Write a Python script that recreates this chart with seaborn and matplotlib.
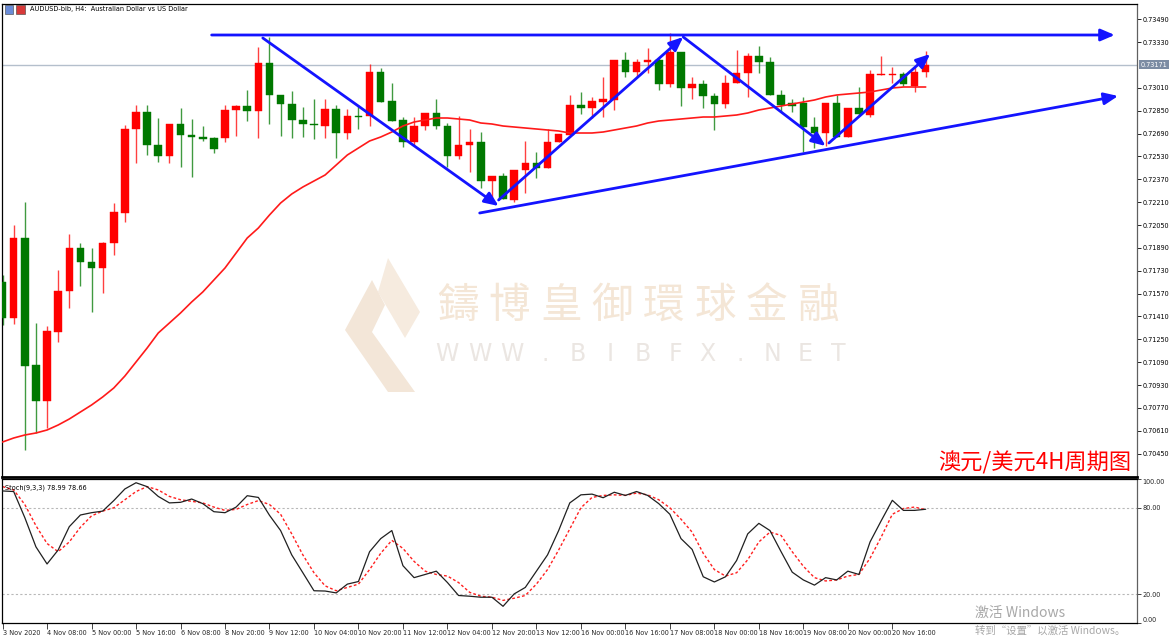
import numpy as np
import pandas as pd
import matplotlib
matplotlib.use("Agg")
import matplotlib.pyplot as plt
import matplotlib.transforms as mtransforms
from matplotlib.patches import Polygon
import seaborn as sns

# ---------------- data ----------------
opens = [0.71651, 0.71399, 0.71959, 0.71070, 0.70818, 0.71301, 0.71588, 0.71889, 0.71791, 0.71749,
         0.71924, 0.72134, 0.72722, 0.72841, 0.72610, 0.72533, 0.72757, 0.72680, 0.72666, 0.72659,
         0.72659, 0.72855, 0.72883, 0.72848, 0.73184, 0.72960, 0.72897, 0.72785, 0.72757, 0.72743,
         0.72862, 0.72694, 0.72813, 0.72813, 0.73121, 0.72918, 0.72785, 0.72631, 0.72743, 0.72834,
         0.72743, 0.72533, 0.72610, 0.72631, 0.72358, 0.72393, 0.72225, 0.72435, 0.72484, 0.72449,
         0.72631, 0.72680, 0.72890, 0.72869, 0.72911, 0.72925, 0.73205, 0.73121, 0.73191, 0.73205,
         0.73037, 0.73261, 0.73009, 0.73037, 0.72953, 0.72897, 0.73044, 0.73114, 0.73233, 0.73191,
         0.72960, 0.72904, 0.72904, 0.72736, 0.72694, 0.72904, 0.72666, 0.72869, 0.72820, 0.73100,
         0.73100, 0.73107, 0.73023, 0.73121]
highs = [0.71700, 0.72050, 0.72211, 0.71364, 0.71343, 0.71735, 0.71987, 0.71924, 0.71889, 0.71931,
         0.72204, 0.72750, 0.72890, 0.72890, 0.72799, 0.72757, 0.72869, 0.72792, 0.72743, 0.72666,
         0.72890, 0.72890, 0.72995, 0.73296, 0.73366, 0.72960, 0.72988, 0.72876, 0.72932, 0.72932,
         0.72890, 0.72862, 0.72890, 0.73177, 0.73149, 0.73044, 0.72806, 0.72806, 0.72834, 0.72932,
         0.72764, 0.72813, 0.72722, 0.72701, 0.72393, 0.72414, 0.72435, 0.72638, 0.72561, 0.72722,
         0.72687, 0.72960, 0.72981, 0.72946, 0.73086, 0.73205, 0.73261, 0.73212, 0.73289, 0.73219,
         0.73394, 0.73261, 0.73086, 0.73065, 0.72974, 0.73100, 0.73275, 0.73254, 0.73303, 0.73226,
         0.72995, 0.72932, 0.72946, 0.72806, 0.72904, 0.72960, 0.72869, 0.73016, 0.73135, 0.73233,
         0.73156, 0.73121, 0.73156, 0.73268]
lows = [0.71350, 0.71357, 0.70475, 0.70594, 0.70629, 0.71231, 0.71469, 0.71623, 0.71441, 0.71574,
        0.71840, 0.72071, 0.72484, 0.72540, 0.72491, 0.72484, 0.72456, 0.72386, 0.72638, 0.72554,
        0.72631, 0.72673, 0.72778, 0.72659, 0.72757, 0.72673, 0.72659, 0.72666, 0.72652, 0.72659,
        0.72519, 0.72652, 0.72722, 0.72743, 0.72911, 0.72778, 0.72596, 0.72603, 0.72715, 0.72722,
        0.72456, 0.72512, 0.72421, 0.72309, 0.72211, 0.72232, 0.72211, 0.72274, 0.72379, 0.72449,
        0.72631, 0.72680, 0.72827, 0.72799, 0.72806, 0.72855, 0.73086, 0.73086, 0.73114, 0.72995,
        0.73016, 0.72883, 0.72932, 0.72869, 0.72715, 0.72869, 0.73044, 0.72946, 0.73114, 0.72960,
        0.72841, 0.72841, 0.72561, 0.72589, 0.72603, 0.72666, 0.72666, 0.72820, 0.72806, 0.73100,
        0.73044, 0.73023, 0.72981, 0.73086]
closes = [0.71399, 0.71959, 0.71063, 0.70818, 0.71308, 0.71588, 0.71889, 0.71791, 0.71749, 0.71924,
          0.72141, 0.72722, 0.72841, 0.72610, 0.72533, 0.72757, 0.72680, 0.72666, 0.72652, 0.72582,
          0.72855, 0.72883, 0.72848, 0.73184, 0.72960, 0.72897, 0.72785, 0.72757, 0.72750, 0.72862,
          0.72694, 0.72813, 0.72806, 0.73121, 0.72911, 0.72778, 0.72631, 0.72743, 0.72834, 0.72743,
          0.72533, 0.72610, 0.72631, 0.72358, 0.72393, 0.72232, 0.72435, 0.72484, 0.72449, 0.72631,
          0.72687, 0.72890, 0.72869, 0.72918, 0.72932, 0.73205, 0.73121, 0.73191, 0.73205, 0.73037,
          0.73261, 0.73009, 0.73037, 0.72953, 0.72897, 0.73044, 0.73114, 0.73233, 0.73191, 0.72960,
          0.72890, 0.72883, 0.72736, 0.72694, 0.72904, 0.72666, 0.72869, 0.72827, 0.73107, 0.73107,
          0.73107, 0.73037, 0.73121, 0.73170]
ma_values = [0.70531, 0.70559, 0.70580, 0.70594, 0.70615, 0.70650, 0.70692, 0.70741, 0.70790, 0.70846,
             0.70909, 0.70993, 0.71091, 0.71189, 0.71294, 0.71364, 0.71434, 0.71511, 0.71581, 0.71665,
             0.71749, 0.71854, 0.71959, 0.72029, 0.72120, 0.72204, 0.72267, 0.72316, 0.72358, 0.72400,
             0.72470, 0.72540, 0.72589, 0.72638, 0.72666, 0.72701, 0.72743, 0.72771, 0.72785, 0.72799,
             0.72799, 0.72792, 0.72785, 0.72764, 0.72757, 0.72743, 0.72736, 0.72729, 0.72722, 0.72715,
             0.72708, 0.72694, 0.72694, 0.72694, 0.72701, 0.72715, 0.72729, 0.72743, 0.72764, 0.72778,
             0.72785, 0.72792, 0.72799, 0.72806, 0.72806, 0.72813, 0.72820, 0.72834, 0.72855, 0.72869,
             0.72883, 0.72897, 0.72911, 0.72925, 0.72946, 0.72960, 0.72967, 0.72974, 0.72981, 0.72995,
             0.73009, 0.73016, 0.73016, 0.73016]
stoch_k = [91.7, 91.3, 73.2, 52.9, 41.0, 50.7, 66.9, 75.0, 76.6, 77.7,
           85.0, 93.1, 97.4, 94.7, 87.9, 83.4, 83.8, 86.1, 82.9, 77.3,
           76.6, 80.5, 88.4, 87.2, 74.8, 64.2, 47.3, 34.9, 22.4, 22.2,
           20.9, 27.0, 28.8, 49.5, 58.6, 64.2, 39.8, 31.5, 33.7, 36.0,
           28.1, 19.1, 18.6, 17.9, 17.9, 11.6, 20.2, 24.7, 36.0, 47.3,
           64.2, 83.4, 89.0, 89.5, 87.0, 90.8, 88.6, 91.3, 88.6, 82.9,
           75.5, 58.6, 51.1, 32.1, 28.5, 32.1, 43.4, 61.9, 69.2, 64.2,
           49.5, 35.3, 29.9, 26.3, 31.5, 29.9, 36.0, 33.7, 56.3, 71.0,
           85.2, 78.2, 78.2, 78.99]
stoch_d = [94.7, 92.4, 82.3, 67.6, 55.2, 49.5, 56.3, 66.5, 74.4, 77.7,
           80.0, 85.6, 91.3, 94.7, 92.4, 87.9, 85.6, 84.5, 83.4, 80.5,
           78.2, 78.9, 82.3, 85.0, 82.3, 75.5, 61.9, 47.3, 34.9, 25.8,
           22.4, 24.7, 27.0, 37.1, 48.4, 57.4, 51.8, 42.8, 36.0, 33.7,
           32.6, 28.1, 21.3, 18.6, 17.9, 15.7, 17.2, 19.1, 27.0, 37.1,
           50.7, 65.3, 80.0, 87.2, 88.6, 89.0, 88.6, 90.2, 89.0, 85.6,
           80.0, 72.1, 63.1, 48.4, 37.1, 32.6, 34.9, 43.9, 56.3, 63.1,
           60.8, 49.5, 39.4, 31.5, 29.2, 29.9, 32.6, 33.7, 45.0, 59.7,
           75.5, 79.5, 80.5, 78.66]
price_ticks = [0.70450, 0.70610, 0.70770, 0.70930, 0.71090, 0.71250, 0.71410, 0.71570, 0.71730,
               0.71890, 0.72050, 0.72210, 0.72370, 0.72530, 0.72690, 0.72850, 0.73010, 0.73330, 0.73490]
last_price = 0.73171
x_tick_idx = [0, 4, 8, 12, 16, 20, 24, 28, 32, 36, 40, 44, 48, 52, 56, 60, 64, 68, 72, 76, 80]
x_tick_labels = ["3 Nov 2020", "4 Nov 08:00", "5 Nov 00:00", "5 Nov 16:00", "6 Nov 08:00",
                 "8 Nov 20:00", "9 Nov 12:00", "10 Nov 04:00", "10 Nov 20:00", "11 Nov 12:00",
                 "12 Nov 04:00", "12 Nov 20:00", "13 Nov 12:00", "16 Nov 00:00", "16 Nov 16:00",
                 "17 Nov 08:00", "18 Nov 00:00", "18 Nov 16:00", "19 Nov 08:00", "20 Nov 00:00",
                 "20 Nov 16:00"]
stoch_levels = [80, 20]
# hand-drawn analysis lines (bar index, price)
trend_lines = [
    (18.8, 0.73380, 100.0, 0.73380),
    (23.4, 0.73359, 44.6, 0.72183),
    (44.6, 0.72225, 61.2, 0.73366),
    (61.2, 0.73366, 74.0, 0.72603),
    (74.3, 0.72624, 83.4, 0.73247),
    (42.9, 0.72134, 100.3, 0.72953),
]

# ---------------- style ----------------
sns.set_theme(style="white")
plt.rcParams["font.family"] = ["DejaVu Sans", "Noto Sans CJK SC"]
SMALL = dict(family="DejaVu Sans", stretch="condensed")
FS = 5.2

W, H = 1170, 641
fig = plt.figure(figsize=(W / 100, H / 100), dpi=100)
fig.patch.set_facecolor("white")

def fx(px):
    return px / W

def fy(py):
    return 1 - py / H

ax = fig.add_axes([fx(2), fy(477), fx(1135), (477 - 4) / H])
ax2 = fig.add_axes([fx(2), fy(623), fx(1135), (623 - 479) / H])

XMIN, XMAX = -0.05, 102.0
BULL = "#ff0000"
BEAR = "#007800"

df = pd.DataFrame({"idx": np.arange(len(opens)), "open": opens, "high": highs,
                   "low": lows, "close": closes, "ma": ma_values,
                   "k": stoch_k, "d": stoch_d})
df["up"] = df["close"] >= df["open"]

# watermark (behind)
for k, ch in enumerate("鑄博皇御環球金融"):
    ax.text(fx(458 + 51.5 * k), fy(306), ch, transform=fig.transFigure, ha="center", va="center",
            fontsize=30, color="#f4e6d6", family=["Noto Sans CJK TC", "DejaVu Sans"], zorder=0.2)
for k, ch in enumerate("WWW.BIBFX.NET"):
    ax.text(fx(447 + 32.6 * k), fy(354), ch, transform=fig.transFigure, ha="center", va="center",
            fontsize=17, color="#ebe6e2", zorder=0.2)
logo1 = Polygon([(fx(388), fy(258)), (fx(420), fy(312)), (fx(405), fy(338)), (fx(378), fy(292))],
                closed=True, transform=fig.transFigure, facecolor="#f6ebdf", edgecolor="none", zorder=0.2)
logo2 = Polygon([(fx(372), fy(280)), (fx(345), fy(330)), (fx(388), fy(392)), (fx(415), fy(392)),
                 (fx(372), fy(332)), (fx(385), fy(305))],
                closed=True, transform=fig.transFigure, facecolor="#f3e6d8", edgecolor="none", zorder=0.2)
ax.add_patch(logo1)
ax.add_patch(logo2)

# last price line
ax.axhline(last_price, color="#b4bfcc", lw=1.0, zorder=1)

# candles
for up, color in [(True, BULL), (False, BEAR)]:
    sub = df[df["up"] == up]
    ax.vlines(sub["idx"], sub["low"], sub["high"], color=color, lw=1.0, zorder=2, alpha=0.75)
    body_bot = np.minimum(sub["open"], sub["close"])
    body_h = np.maximum(np.abs(sub["close"] - sub["open"]), 0.000025)
    ax.bar(sub["idx"], body_h, bottom=body_bot, width=0.68, color=color, edgecolor=color,
           linewidth=0.3, zorder=3)

# moving average
sns.lineplot(data=df, x="idx", y="ma", ax=ax, color="#ff1a1a", lw=1.2, zorder=4, legend=False)

# analysis lines
for (x0, y0, x1, y1) in trend_lines:
    ax.annotate("", xy=(x1, y1), xytext=(x0, y0),
                arrowprops=dict(arrowstyle="-|>,head_length=0.7,head_width=0.3", color="#1414ff",
                                lw=2.0, shrinkA=0, shrinkB=0), zorder=5)

ax.set_xlim(XMIN, XMAX)
ax.set_ylim(0.70286, 0.73597)
ax.set_xlabel("")
ax.set_ylabel("")
ax.set_xticks([])
ax.yaxis.tick_right()
ax.set_yticks(price_ticks)
ax.set_yticklabels([f"{v:.5f}" for v in price_ticks])
ax.tick_params(axis="y", direction="out", length=3, width=0.6, pad=1, labelsize=FS,
               colors="#000000", right=True)
for lab in ax.get_yticklabels():
    lab.set_fontstretch("condensed")
for s in ["left", "top", "right"]:
    ax.spines[s].set_color("#000000")
    ax.spines[s].set_linewidth(0.9)
ax.spines["right"].set_color("#606060")
ax.spines["bottom"].set_color("#000000")
ax.spines["bottom"].set_linewidth(2.0)

# last price label
trans = mtransforms.blended_transform_factory(ax.transAxes, ax.transData)
ax.text(1.003, last_price, "0.73171", transform=trans, ha="left", va="center", fontsize=FS,
        color="white", fontstretch="condensed",
        bbox=dict(boxstyle="square,pad=0.2", facecolor="#7c8ca3", edgecolor="none"), zorder=6,
        clip_on=False)

# title
ax.text(fx(30), fy(9), "AUDUSD-bib, H4:  Australian Dollar vs US Dollar", transform=fig.transFigure,
        ha="left", va="center", fontsize=FS, fontstretch="condensed", color="#000000")
ax.add_patch(plt.Rectangle((fx(5), fy(14)), fx(8), 9 / H, transform=fig.transFigure,
                           facecolor="#6a8cd8", edgecolor="#404040", lw=0.4, clip_on=False))
ax.add_patch(plt.Rectangle((fx(16), fy(14)), fx(9), 9 / H, transform=fig.transFigure,
                           facecolor="#d83a3a", edgecolor="#404040", lw=0.4, clip_on=False))

# red caption
ax.text(fx(1131), fy(463), "澳元/美元4H周期图", transform=fig.transFigure, ha="right", va="center",
        fontsize=16, color="#ff0000", family=["Noto Sans CJK SC", "DejaVu Sans"], zorder=6)

# ---------------- stochastic panel ----------------
for lv in stoch_levels:
    ax2.axhline(lv, color="#b8b8b8", lw=0.8, ls=(0, (2, 2)), zorder=1)
sns.lineplot(data=df, x="idx", y="k", ax=ax2, color="#202020", lw=0.9, zorder=3, legend=False)
sns.lineplot(data=df, x="idx", y="d", ax=ax2, color="#ff2020", lw=1.0, zorder=2, legend=False,
             linestyle=(0, (2, 1.6)))
ax2.set_xlim(XMIN, XMAX)
ax2.set_ylim(0, 100)
ax2.set_xlabel("")
ax2.set_ylabel("")
ax2.yaxis.tick_right()
ax2.set_yticks([100, 80, 20, 0])
ax2.set_yticklabels(["100.00", "80.00", "20.00", "0.00"])
ax2.tick_params(axis="y", direction="out", length=3, width=0.6, pad=1, labelsize=FS, right=True)
yl = ax2.get_yticklabels()
yl[0].set_va("top")
yl[-1].set_va("bottom")
for lab in yl:
    lab.set_fontstretch("condensed")
ax2.set_xticks(x_tick_idx)
ax2.set_xticklabels(x_tick_labels, ha="left")
ax2.tick_params(axis="x", direction="out", length=4, width=0.6, pad=1, labelsize=FS, bottom=True)
for lab in ax2.get_xticklabels():
    lab.set_fontstretch("condensed")
for s in ["left", "right", "bottom", "top"]:
    ax2.spines[s].set_color("#000000")
    ax2.spines[s].set_linewidth(0.9)
ax2.spines["right"].set_color("#606060")
ax2.text(0.003, 0.96, "Stoch(9,3,3) 78.99 78.66", transform=ax2.transAxes, ha="left", va="top",
         fontsize=FS, fontstretch="condensed", color="#000000")

# Windows activation overlay text
fig.text(fx(975), fy(613), "激活 Windows", ha="left", va="center", fontsize=10,
         color="#a8a8a8", family=["Noto Sans CJK SC", "DejaVu Sans"])
fig.text(fx(975), fy(631), "转到\u201c设置\u201d以激活 Windows。", ha="left", va="center", fontsize=7.5,
         color="#a8a8a8", family=["Noto Sans CJK SC", "DejaVu Sans"])

fig.savefig("out.png", dpi=100, facecolor="white")
